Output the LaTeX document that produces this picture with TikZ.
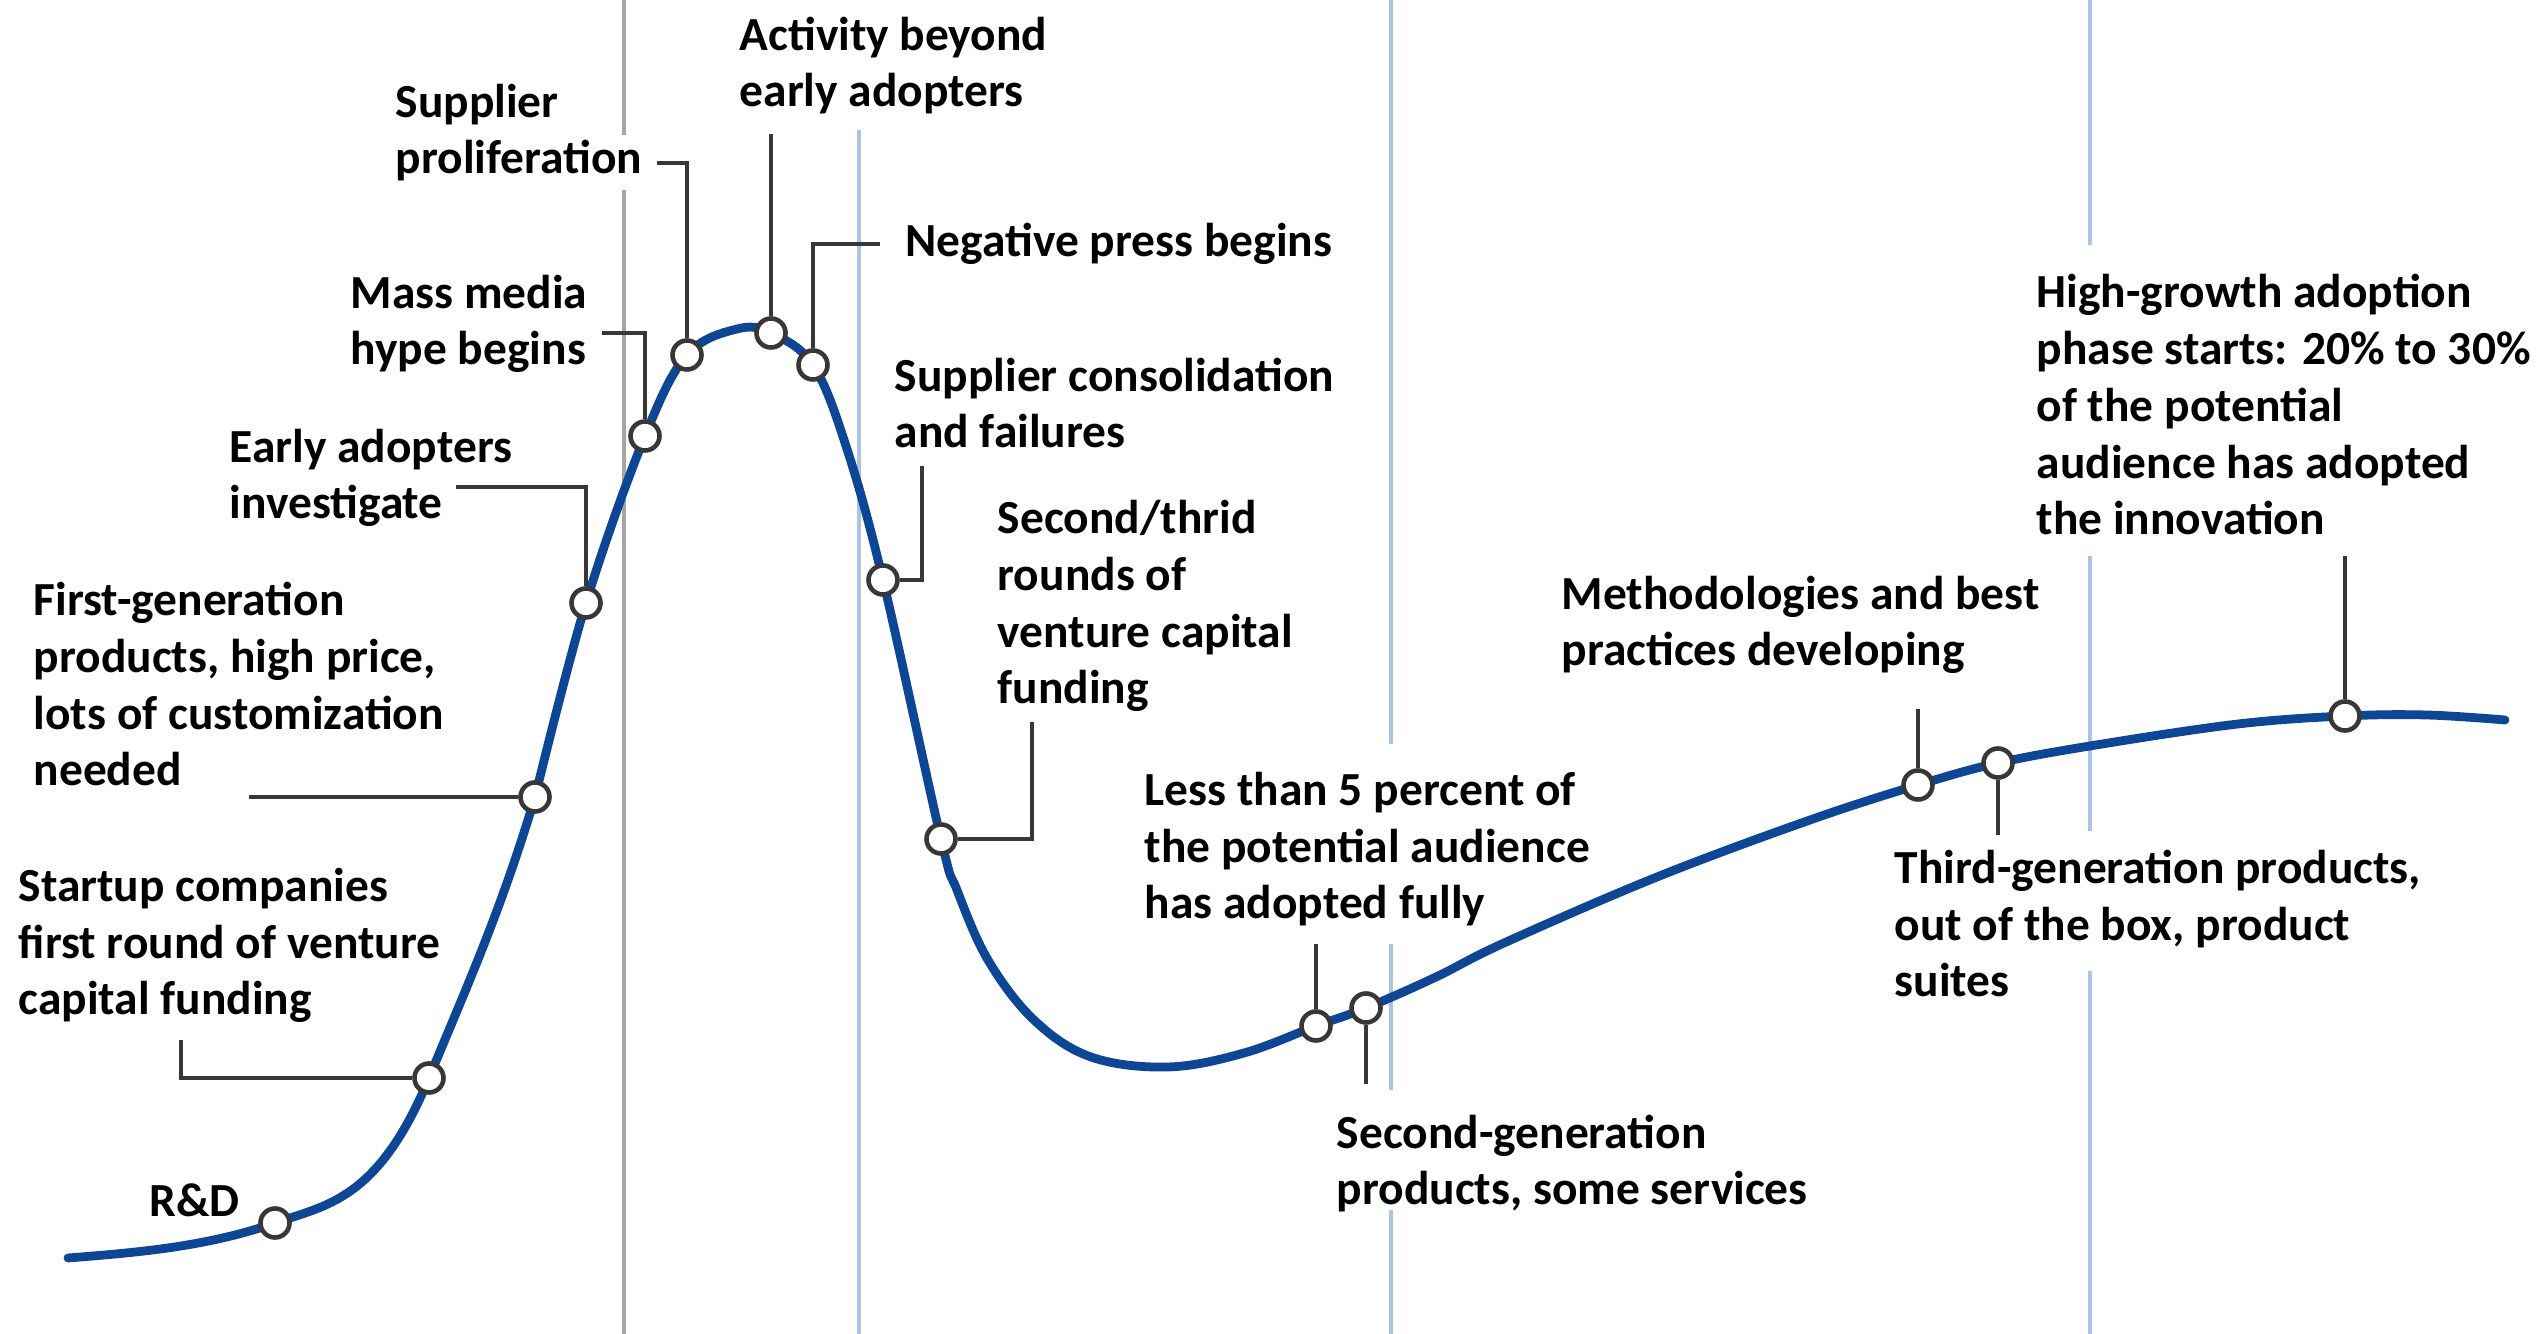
\documentclass[tikz,border=0pt]{standalone}
\usepackage{fontspec}
\setmainfont{Carlito}
\definecolor{curveblue}{RGB}{14,70,150}
\definecolor{vblue}{RGB}{170,196,230}
\definecolor{vgray}{RGB}{165,165,165}
\definecolor{leadgray}{RGB}{55,55,55}
\begin{document}
\begin{tikzpicture}[x=0.01cm,y=-0.01cm,
  lbl/.style={anchor=base west, inner sep=0pt, align=left, font=\fontsize{13.5}{16.2}\selectfont\bfseries},
  dot/.style={circle, draw=leadgray, fill=white, line width=1.3pt, minimum size=0.29cm, inner sep=0pt},
  leader/.style={draw=leadgray, line width=1.15pt},
  vline/.style={line width=0.9pt},
  hype/.style={draw=curveblue, line width=2.5pt, line cap=round}]
\useasboundingbox (0,0) rectangle (2541,1334);
% phase separators
\draw[vline,vgray] (624,0) -- (624,135) (624,190) -- (624,1334);
\draw[vline,vblue] (859,130) -- (859,1334);
\draw[vline,vblue] (1391,0) -- (1391,744) (1391,944) -- (1391,1090) (1391,1210) -- (1391,1334);
\draw[vline,vblue] (2090,0) -- (2090,245) (2090,556) -- (2090,831) (2090,971) -- (2090,1334);
% points on the curve
\coordinate (pRD) at (275,1223);
\coordinate (pS) at (429,1078);
\coordinate (pF) at (535,797);
\coordinate (pE) at (586,603);
\coordinate (pM) at (645,436);
\coordinate (pSP) at (687,355);
\coordinate (pA) at (771,333);
\coordinate (pN) at (813,365);
\coordinate (pSC) at (883,580);
\coordinate (pST) at (941,839);
\coordinate (pL) at (1316,1026);
\coordinate (pG) at (1366,1008);
\coordinate (pMe) at (1918,785);
\coordinate (pT) at (1998,763);
\coordinate (pH) at (2345,716);
% curve
\draw[hype] (68,1258) .. controls (137,1252.5) and (206,1247) .. (pRD)
  .. controls (326,1205) and (378,1201) .. (pS)
  .. controls (464,993) and (500,914) .. (pF);
\draw[hype] plot[smooth, tension=0.6] coordinates {(pF) (pE) (pM) (pSP) (737,329) (pA) (pN) (846,446) (pSC) (pST) (957,890) (988,960) (1034,1020) (1091,1057) (1168,1067) (1244,1053) (pL) (pG) (1436,977) (1504,943) (1657,877) (1810,820) (pMe) (pT) (2096,745) (2238,724) (pH) (2427,715) (2505,720)};
% dots
\foreach \n in {RD,S,F,E,M,SP,A,N,SC,ST,L,G,Me,T,H} {\node[dot] (d\n) at (p\n) {};}
% leader ends
\coordinate (eA) at (771,134);
\coordinate (eSP) at (657,163);
\coordinate (eN) at (880,244);
\coordinate (eM) at (602,333);
\coordinate (eSC) at (922,466);
\coordinate (eE) at (456,487);
\coordinate (eST) at (1032,722);
\coordinate (eF) at (249,797);
\coordinate (eS) at (181,1040);
\coordinate (eL) at (1316,944);
\coordinate (eG) at (1366,1084);
\coordinate (eMe) at (1918,709);
\coordinate (eT) at (1998,835);
\coordinate (eH) at (2345,556);
% leaders
\draw[leader] (dA) -- (eA);
\draw[leader] (dSP) |- (eSP);
\draw[leader] (dN) |- (eN);
\draw[leader] (dM) |- (eM);
\draw[leader] (dSC) -| (eSC);
\draw[leader] (dE) |- (eE);
\draw[leader] (dST) -| (eST);
\draw[leader] (dF) -- (eF);
\draw[leader] (dS) -| (eS);
\draw[leader] (dL) -- (eL);
\draw[leader] (dG) -- (eG);
\draw[leader] (dMe) -- (eMe);
\draw[leader] (dT) -- (eT);
\draw[leader] (dH) -- (eH);
% labels (anchored at the baseline of their last line)
\node[lbl] (tA) at (739,107) {Activity beyond\\early adopters};
\node[lbl] (tSP) at (395,174) {Supplier\\proliferation};
\node[lbl] (tN) at (905,257) {Negative press begins};
\node[lbl] (tM) at (350,365) {Mass media\\hype begins};
\node[lbl] (tSC) at (894,448) {Supplier consolidation\\and failures};
\node[lbl] (tE) at (229,519) {Early adopters\\investigate};
\node[lbl] (tST) at (997,704) {Second/thrid\\rounds of\\venture capital\\funding};
\node[lbl] (tF) at (33,786) {First-generation\\products, high price,\\lots of customization\\needed};
\node[lbl] (tMe) at (1561,666) {Methodologies and best\\practices developing};
\node[lbl] (tH) at (2036,535) {High-growth adoption\\phase starts: 20\% to 30\%\\of the potential\\audience has adopted\\the innovation};
\node[lbl] (tL) at (1144,919) {Less than 5 percent of\\the potential audience\\has adopted fully};
\node[lbl] (tT) at (1894,997) {Third-generation products,\\out of the box, product\\suites};
\node[lbl] (tS) at (18,1015) {Startup companies\\first round of venture\\capital funding};
\node[lbl] (tG) at (1336,1205) {Second-generation\\products, some services};
\node[lbl] (tRD) at (149,1217) {R\&D};
\end{tikzpicture}
\end{document}
